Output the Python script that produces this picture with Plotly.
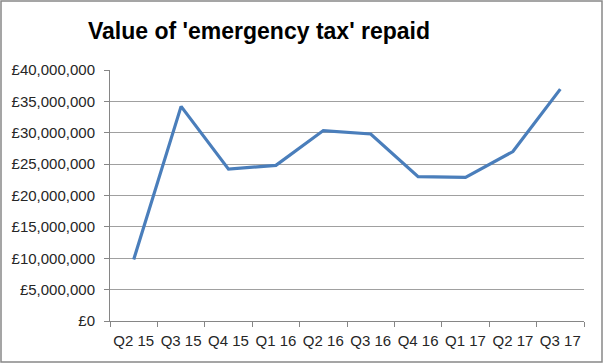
import plotly.graph_objects as go

quarters = ["Q2 15", "Q3 15", "Q4 15", "Q1 16", "Q2 16", "Q3 16", "Q4 16", "Q1 17", "Q2 17", "Q3 17"]
repaid = [9.8e6, 34.2e6, 24.2e6, 24.8e6, 30.35e6, 29.8e6, 23.0e6, 22.9e6, 27.0e6, 36.95e6]
ytick_vals = [0, 5e6, 10e6, 15e6, 20e6, 25e6, 30e6, 35e6, 40e6]
ytick_text = ["£0", "£5,000,000", "£10,000,000", "£15,000,000", "£20,000,000",
              "£25,000,000", "£30,000,000", "£35,000,000", "£40,000,000"]

W, H = 604, 364
L, R, T, B = 110, 20, 70, 43
pw, ph = W - L - R, H - T - B

fig = go.Figure(go.Scatter(
    x=quarters, y=repaid, mode="lines",
    line=dict(color="#4A7EBB", width=3.2),
    hoverinfo="x+y",
))

font_family = "Liberation Sans, Arial, sans-serif"
fig.update_layout(
    width=W, height=H,
    margin=dict(l=L, r=R, t=T, b=B, autoexpand=False),
    paper_bgcolor="white", plot_bgcolor="white",
    showlegend=False,
    font=dict(family=font_family, color="#262626", size=15),
    title=dict(
        text="<b>Value of 'emergency tax' repaid</b>",
        x=259 / W, xanchor="center", xref="container",
        y=1 - 31 / H, yanchor="middle", yref="container",
        font=dict(family=font_family, size=23, color="#000000"),
    ),
    xaxis=dict(
        type="category", tickson="boundaries", tickangle=0,
        ticks="outside", ticklen=5, tickcolor="#868686",
        showline=True, linecolor="#868686", linewidth=1,
        showgrid=False, zeroline=False, automargin=False,
        ticklabelstandoff=6,
        range=[-0.5, len(quarters) - 0.5],
        tickfont=dict(size=15, color="#262626"),
        fixedrange=True,
    ),
    yaxis=dict(
        range=[0, 40e6], tickvals=ytick_vals, ticktext=ytick_text,
        ticks="outside", ticklen=5, tickcolor="#868686",
        showline=True, linecolor="#868686", linewidth=1,
        showgrid=True, gridcolor="#A0A0A0", gridwidth=1,
        zeroline=False, ticklabelstandoff=6, automargin=False,
        tickfont=dict(size=15, color="#262626"),
        fixedrange=True,
    ),
)

# outer chart border
fig.add_shape(
    type="rect", xref="paper", yref="paper",
    x0=(1 - L) / pw, x1=(W - 2 - L) / pw,
    y0=(ph + T - (H - 2)) / ph, y1=(ph + T - 1) / ph,
    line=dict(color="#888888", width=1.5), fillcolor="rgba(0,0,0,0)",
    layer="below",
)

fig.write_html(
    "out.html",
    config={"displayModeBar": False},
    post_script="document.body.style.margin='0';document.body.style.overflow='hidden';",
)
